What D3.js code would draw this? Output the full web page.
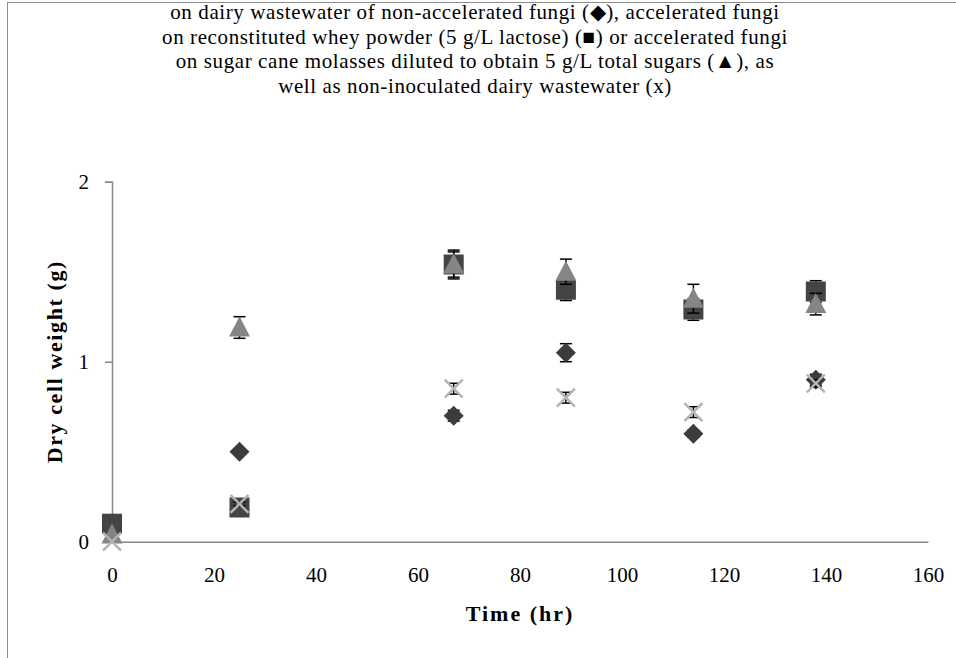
<!DOCTYPE html>
<html>
<head>
<meta charset="utf-8">
<script src="https://cdn.jsdelivr.net/npm/d3@7"></script>
<style>
  html, body { margin: 0; padding: 0; background: #fff; }
  svg { display: block; }
  text { font-family: "Liberation Serif", "Times New Roman", "DejaVu Serif", serif; fill: #000; }
</style>
</head>
<body>
<svg id="chart" width="956" height="658"></svg>
<script>
// ---- data ----
const times = [0, 25, 67, 89, 114, 138];
const diamondVals = [0.06, 0.50, 0.70, 1.05, 0.60, 0.90];
const diamondErr  = [0.00, 0.01, 0.03, 0.05, 0.02, 0.03];
const squareVals  = [0.10, 0.19, 1.54, 1.40, 1.29, 1.39];
const squareErr   = [0.00, 0.02, 0.07, 0.06, 0.06, 0.06];
const triangleVals = [0.04, 1.19, 1.54, 1.50, 1.35, 1.32];
const triangleErr  = [0.00, 0.06, 0.08, 0.07, 0.08, 0.06];
const crossVals = [0.00, 0.21, 0.85, 0.80, 0.72, 0.88];
const crossErr  = [0.00, 0.01, 0.03, 0.03, 0.03, 0.02];
const xTicks = [0, 20, 40, 60, 80, 100, 120, 140, 160];
const yTicks = [0, 1, 2];
const titleLines = [
  "on dairy wastewater of non-accelerated fungi (\u25C6), accelerated fungi",
  "on reconstituted whey powder (5 g/L lactose) (\u25A0) or accelerated fungi",
  "on sugar cane molasses diluted to obtain 5 g/L total sugars (\u25B2), as",
  "well as non-inoculated dairy wastewater (x)"
];
const xTitle = "Time (hr)";
const yTitle = "Dry cell weight (g)";

// ---- layout ----
const svg = d3.select("#chart");
const pLeft = 112, pRight = 928, pTop = 181.7, pBottom = 541.7;
const x = d3.scaleLinear().domain([0, 160]).range([pLeft, pRight]);
const y = d3.scaleLinear().domain([0, 2]).range([pBottom, pTop]);
const axisColor = "#878787";
const serif = '"Liberation Serif", "Times New Roman", serif';

// chart area frame
svg.append("rect").attr("x", 7.5).attr("y", 2.5).attr("width", 1000).attr("height", 700)
  .attr("fill", "none").attr("stroke", "#8c8c8c").attr("stroke-width", 1);

// title
const tg = svg.append("g");
titleLines.forEach((t, i) => {
  tg.append("text").attr("x", 475).attr("y", 19 + i * 24.5)
    .attr("text-anchor", "middle").style("font-size", "21px").style("letter-spacing", "0.6px")
    .style("font-family", serif).text(t);
});

// axes
const yAxis = d3.axisLeft(y).tickValues(yTicks).tickFormat(d3.format("d")).tickSize(7).tickPadding(16);
const gy = svg.append("g").attr("transform", `translate(${pLeft},0)`).call(yAxis);
gy.select(".domain").attr("stroke", axisColor).attr("stroke-width", 1.5);
gy.selectAll(".tick line").attr("stroke", axisColor).attr("stroke-width", 1.5);
gy.selectAll(".tick text").style("font-size", "21px").style("font-family", serif).attr("fill", "#000");

const xAxis = d3.axisBottom(x).tickValues(xTicks).tickFormat(d3.format("d")).tickSize(0).tickPadding(25);
const gx = svg.append("g").attr("transform", `translate(0,${pBottom})`).call(xAxis);
gx.select(".domain").attr("stroke", axisColor).attr("stroke-width", 1.5);
gx.selectAll(".tick text").style("font-size", "21px").style("font-family", serif).attr("fill", "#000");

// axis titles
svg.append("text").attr("x", (pLeft + pRight) / 2).attr("y", 621)
  .attr("text-anchor", "middle").style("font-size", "22px").style("font-weight", "bold")
  .style("letter-spacing", "2px").style("font-family", serif).text(xTitle);
svg.append("text").attr("transform", `translate(62,${(pTop + pBottom) / 2}) rotate(-90)`)
  .attr("text-anchor", "middle").style("font-size", "22px").style("font-weight", "bold")
  .style("letter-spacing", "1.6px").style("font-family", serif).text(yTitle);

// series
function errorBars(g, vals, errs) {
  const eg = g.append("g");
  times.forEach((t, i) => {
    if (!errs[i]) return;
    const cx = x(t), y1 = y(vals[i] + errs[i]), y2 = y(vals[i] - errs[i]);
    eg.append("line").attr("x1", cx).attr("x2", cx).attr("y1", y1).attr("y2", y2)
      .attr("stroke", "#000").attr("stroke-width", 1.5);
    [y1, y2].forEach(yy => eg.append("line").attr("x1", cx - 6).attr("x2", cx + 6)
      .attr("y1", yy).attr("y2", yy).attr("stroke", "#000").attr("stroke-width", 1.5));
  });
}
const plot = svg.append("g");
const series = [
  { vals: diamondVals, errs: diamondErr, type: "diamond" },
  { vals: squareVals, errs: squareErr, type: "square" },
  { vals: triangleVals, errs: triangleErr, type: "triangle" },
  { vals: crossVals, errs: crossErr, type: "cross" }
];
series.forEach(s => {
  const g = plot.append("g");
  errorBars(g, s.vals, s.errs);
  times.forEach((t, i) => {
    const cx = x(t), cy = y(s.vals[i]);
    if (s.type === "diamond") {
      g.append("path").attr("d", `M${cx},${cy - 10}L${cx + 10},${cy}L${cx},${cy + 10}L${cx - 10},${cy}Z`)
        .attr("fill", "#3c3c3c");
    } else if (s.type === "square") {
      g.append("rect").attr("x", cx - 10).attr("y", cy - 10).attr("width", 20).attr("height", 20)
        .attr("fill", "#444444");
    } else if (s.type === "triangle") {
      g.append("path").attr("d", `M${cx},${cy - 11}L${cx + 10.5},${cy + 9}L${cx - 10.5},${cy + 9}Z`)
        .attr("fill", "#858585");
    } else {
      g.append("path").attr("d", `M${cx - 9},${cy - 9}L${cx + 9},${cy + 9}M${cx + 9},${cy - 9}L${cx - 9},${cy + 9}`)
        .attr("stroke", "#b4b4b4").attr("stroke-width", 2.5).attr("fill", "none");
    }
  });
});
</script>
</body>
</html>
